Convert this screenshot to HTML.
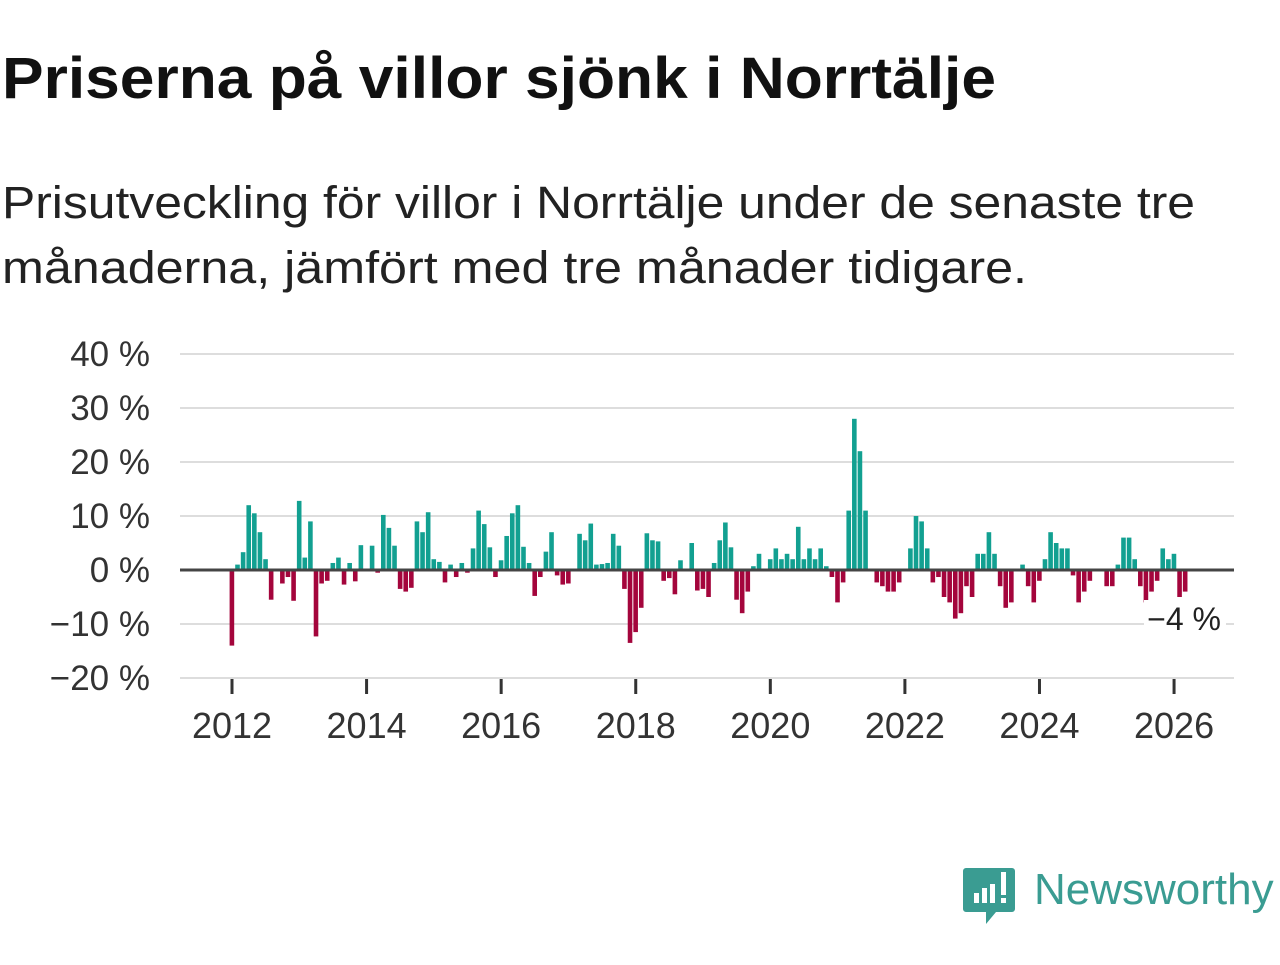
<!DOCTYPE html>
<html><head><meta charset="utf-8"><style>
body{margin:0;background:#fff;width:1280px;height:960px;overflow:hidden;font-family:"Liberation Sans","DejaVu Sans",sans-serif}
</style></head><body>
<svg width="1280" height="960" xmlns="http://www.w3.org/2000/svg">
<text x="2" y="98" font-size="58" font-weight="bold" fill="#111" textLength="994" lengthAdjust="spacingAndGlyphs">Priserna på villor sjönk i Norrtälje</text>
<text x="2" y="218" font-size="45" fill="#222" textLength="1193" lengthAdjust="spacingAndGlyphs">Prisutveckling för villor i Norrtälje under de senaste tre</text>
<text x="2" y="283" font-size="45" fill="#222" textLength="1025" lengthAdjust="spacingAndGlyphs">månaderna, jämfört med tre månader tidigare.</text>
<g id="grid"></g><g id="bars"></g><g id="axes"></g>
<g><rect x="1144" y="600" width="82" height="36" fill="#fff"/><text x="1221" y="630" font-size="32" text-anchor="end" fill="#222">−4 %</text></g>
<g>
<path d="M966 868 h46 a3 3 0 0 1 3 3 v38 a3 3 0 0 1 -3 3 h-16 l-10 12 v-12 h-20 a3 3 0 0 1 -3 -3 v-38 a3 3 0 0 1 3 -3z" fill="#3a9c92"/>
<rect x="974" y="893" width="5" height="10" fill="#fff"/><rect x="982" y="888" width="5" height="15" fill="#fff"/><rect x="990" y="884" width="5" height="19" fill="#fff"/><rect x="1001" y="872" width="5" height="23" fill="#fff"/><rect x="1001" y="898" width="5" height="5" fill="#fff"/>
<text x="1034" y="904" font-size="44" fill="#3a9c92">Newsworthy</text></g>
</svg>
<script>
const values=[-14,1,3.3,12,10.5,7,2,-5.5,0,-2.5,-1.3,-5.7,
12.8,2.3,9,-12.3,-2.5,-2,1.3,2.3,-2.7,1.3,-2.1,4.6,
0,4.5,-0.5,10.2,7.8,4.5,-3.5,-4,-3.3,9,7,10.7,
2,1.5,-2.3,1,-1.3,1.3,-0.5,4,11,8.5,4.2,-1.3,
1.8,6.3,10.5,12,4.3,1.3,-4.8,-1.3,3.4,7,-1,-2.7,
-2.5,0,6.7,5.5,8.6,1,1.1,1.3,6.7,4.5,-3.5,-13.5,
-11.5,-7,6.8,5.5,5.3,-2,-1.5,-4.5,1.8,0,5,
-3.8,-3.5,-5,1.3,5.5,8.8,4.2,-5.5,-8,-4,0.7,3,
0,2,4,2,3,2,8,2,4,2,4,0.7,
-1.3,-6,-2.3,11,28,22,11,0,-2.3,-3,-4,-4,
-2.3,0,4,10,9,4,-2.3,-1.3,-5,-6,-9,-8,
-3,-5,3,3,7,3,-3,-7,-6,0,1,-3,
-6,-2,2,7,5,4,4,-1,-6,-4,-2,0,
0,-3,-3,1,6,6,2,-3,-6,-4,-2,4,
2,3,-5,-4];
const startYear=2012;
const yTicks=[40,30,20,10,0,-10,-20];
const xTicks=[2012,2014,2016,2018,2020,2022,2024,2026];
const NS="http://www.w3.org/2000/svg";
const x=t=>232+(t-2012)*67.29;
const xi=i=>x(startYear+i/12);
const y=v=>570-v*5.4;
function mk(tag,a,p){const e=document.createElementNS(NS,tag);for(const k in a)e.setAttribute(k,a[k]);p.appendChild(e);return e;}
const grid=document.getElementById('grid'),bars=document.getElementById('bars'),axes=document.getElementById('axes');
yTicks.forEach(v=>{
 if(v!==0){const l=mk('line',{x1:180,x2:1234,y1:y(v),y2:y(v),stroke:'#ddd','stroke-width':2},grid);
 
 }
 const t=mk('text',{x:150,y:y(v)+12,'font-size':35,'text-anchor':'end',fill:'#333'},axes);
 t.textContent=(v<0?'−'+(-v):v)+' %';
 
 
});
values.forEach((v,i)=>{
 const r=mk('rect',{x:xi(i)-2.4,width:4.6,y:Math.min(y(v),570),height:Math.abs(y(v)-570),fill:v>=0?'#12a091':'#a4053c'},bars);
 
 
});
const z=mk('line',{x1:180,x2:1234,y1:570,y2:570,stroke:'#444','stroke-width':3},axes);


xTicks.forEach(t=>{
 const l=mk('line',{x1:x(t),x2:x(t),y1:679,y2:694,stroke:'#333','stroke-width':3},axes);
 
 
 const tx=mk('text',{x:x(t),y:738,'font-size':36,'text-anchor':'middle',fill:'#333'},axes);
 tx.textContent=t;
 
 
});
</script>
</body></html>
